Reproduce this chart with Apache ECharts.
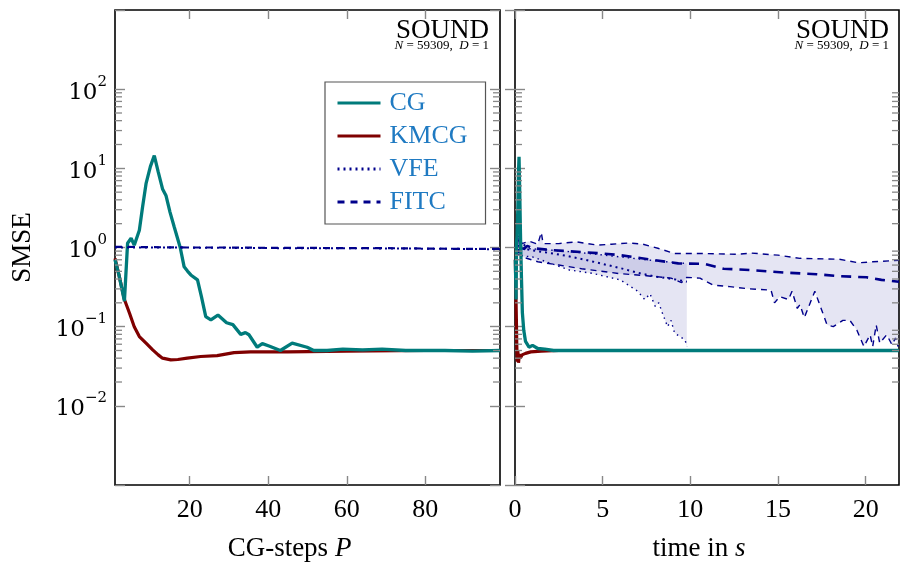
<!DOCTYPE html>
<html><head><meta charset="utf-8">
<script src="https://cdn.jsdelivr.net/npm/echarts@6/dist/echarts.min.js"></script>
<style>html,body{margin:0;padding:0;background:#fff}#c{width:906px;height:575px}</style>
</head><body><div id="c"></div>
<script>
// ---------- data (left: SMSE vs CG-steps P) ----------
const cgSteps = [[1,0.7],[2,0.45],[3.4,0.21],[4.2,1.13],[5.1,1.31],[5.9,1.07],[7.2,1.65],[8,3.2],[8.9,6.4],[10,10.5],[11,14.5],[12,9],[13.1,5.5],[14,4.5],[15,2.8],[16.1,1.8],[17.6,1.0],[18.6,0.57],[19.5,0.5],[20.3,0.45],[22,0.39],[23,0.24],[24.1,0.134],[25.4,0.122],[27.2,0.14],[29.4,0.112],[31,0.106],[33,0.08],[34.2,0.084],[35.1,0.079],[37.2,0.055],[38.5,0.061],[40.2,0.057],[43.1,0.05],[46.1,0.062],[49.9,0.055],[51.6,0.05],[55,0.05],[59,0.052],[64,0.051],[69,0.052],[75,0.05],[85,0.05],[92,0.049],[99,0.05]];
const kmcgSteps = [[1,0.73],[2,0.45],[3.4,0.22],[4.7,0.148],[5.9,0.1],[7.2,0.075],[8.9,0.062],[10.6,0.051],[12,0.044],[13.1,0.04],[15.2,0.038],[17,0.0385],[19.4,0.04],[22.8,0.042],[27,0.043],[31.3,0.047],[35.5,0.048],[45,0.048],[60,0.049],[80,0.05],[99,0.05]];
const vfeSteps = [[1,1.0],[15,1.0],[30,0.99],[45,0.98],[60,0.98],[75,0.97],[90,0.96],[99,0.95]];
const fitcSteps = [[1,1.02],[10,1.01],[20,1.0],[30,1.0],[40,0.99],[50,0.99],[60,0.98],[70,0.98],[80,0.97],[90,0.96],[99,0.96]];

// ---------- data (right: SMSE vs time in s) ----------
const cgTime = [[0.02,0.7],[0.06,0.22],[0.09,1.2],[0.12,1.4],[0.16,3],[0.2,9],[0.23,14],[0.27,5],[0.32,1.2],[0.37,0.4],[0.42,0.15],[0.5,0.09],[0.6,0.065],[0.8,0.055],[1.0,0.058],[1.3,0.053],[1.7,0.052],[2.2,0.05],[21.9,0.05]];
const kmcgTime = [[0.02,0.7],[0.05,0.27],[0.08,0.12],[0.1,0.06],[0.13,0.036],[0.16,0.05],[0.2,0.035],[0.25,0.045],[0.3,0.04],[0.4,0.044],[0.6,0.046],[0.9,0.048],[1.5,0.049],[2.5,0.05],[21.9,0.05]];
const fitcMeanTime = [[0.05,1.0],[0.15,1.25],[0.25,0.85],[0.35,1.1],[0.5,0.95],[0.7,1.05],[1.0,0.98],[2,0.93],[3,0.9],[4,0.87],[5,0.84],[6,0.8],[7.6,0.71],[9.3,0.63],[10.8,0.62],[11.9,0.54],[13.4,0.52],[15.5,0.48],[17.2,0.46],[18.5,0.435],[20.05,0.42],[20.9,0.39],[21.9,0.37]];
const fitcUpperTime = [[0.05,1.25],[0.2,1.4],[0.4,1.12],[0.8,1.2],[1.3,1.1],[1.5,1.55],[1.6,1.12],[2.5,1.12],[3.5,1.18],[4.7,1.07],[5.5,1.1],[6.5,1.14],[7.3,1.1],[8.2,0.97],[9.1,0.84],[10.55,0.84],[12.7,0.82],[13.5,0.85],[15,0.8],[16.25,0.73],[18.5,0.71],[19.6,0.64],[20.4,0.66],[21.9,0.69]];
const fitcLowerTime = [[0.05,0.85],[0.5,0.75],[1.3,0.66],[2.5,0.6],[3.8,0.54],[5.9,0.47],[7.5,0.44],[8.9,0.41],[9.5,0.36],[9.8,0.42],[10.55,0.41],[11.3,0.335],[12.25,0.32],[13.4,0.3],[14.6,0.29],[14.8,0.2],[15.1,0.24],[15.6,0.22],[15.8,0.28],[16.1,0.17],[16.25,0.19],[16.5,0.13],[17.1,0.28],[17.8,0.105],[18.15,0.1],[18.7,0.12],[19.1,0.12],[19.5,0.09],[19.9,0.056],[20.25,0.079],[20.4,0.056],[20.6,0.105],[20.8,0.062],[21.2,0.079],[21.5,0.059],[21.7,0.072],[21.85,0.056]];
const vfeMeanTime = [[0.05,1.1],[0.1,0.85],[0.15,1.3],[0.2,0.9],[0.3,1.2],[0.4,0.95],[0.5,1.1],[0.7,0.95],[1,0.92],[2,0.85],[3,0.78],[4,0.7],[5,0.62],[6,0.55],[7,0.48],[8,0.43],[9,0.4],[9.8,0.37]];
const vfeUpperTime = [[0.05,1.2],[0.2,1.35],[0.4,1.05],[0.7,0.97],[2,0.93],[4,0.85],[6,0.76],[8,0.68],[9.3,0.64],[9.8,0.63]];
const vfeLowerTime = [[0.05,0.8],[1,0.76],[3.1,0.52],[4.45,0.47],[6,0.39],[6.6,0.32],[7,0.28],[7.4,0.22],[7.7,0.26],[8,0.18],[8.2,0.2],[8.4,0.15],[8.7,0.1],[8.9,0.12],[9.1,0.083],[9.4,0.075],[9.7,0.068],[9.8,0.056]];

// ---------- axes / ticks ----------
const stepTicks = [20, 40, 60, 80];
const timeTicks = [0, 5, 10, 15, 20];
const minorTickValues = [0.02,0.03,0.04,0.05,0.06,0.07,0.08,0.09,0.2,0.3,0.4,0.5,0.6,0.7,0.8,0.9,2,3,4,5,6,7,8,9,20,30,40,50,60,70,80,90];
const labelledExponents = [-2, -1, 0, 1, 2];

const TEAL = '#007b7b', DRED = '#7f0000', NAVY = '#00008b';
const SERIF = 'Liberation Serif';
const TICK = '#888';

function logFmt(v) {
  const e = Math.round(Math.log10(v));
  if (labelledExponents.indexOf(e) < 0) return '';
  return '{b|10}{s|' + String(e).replace('-', '\u2212') + '}';
}
const yRich = { b: { fontFamily: 'DejaVu Serif', fontSize: 23, lineHeight: 30, color: '#000', verticalAlign: 'bottom' },
                s: { fontFamily: 'DejaVu Serif', fontSize: 15, lineHeight: 16, color: '#000', verticalAlign: 'top' } };

function xAx(grid, pos, min, max, ticks, showLabel, name) {
  return { type: 'value', gridIndex: grid, position: pos, min: min, max: max,
    axisLine: { show: false }, splitLine: { show: false },
    axisTick: { show: true, inside: true, length: 9, customValues: ticks, lineStyle: { color: TICK, width: 1.4 } },
    axisLabel: { show: showLabel, customValues: ticks, margin: 12, fontFamily: SERIF, fontSize: 26, color: '#000' },
    name: name ? name.text : '', nameLocation: 'middle', nameGap: name ? name.gap : 0,
    nameTextStyle: name ? { padding: name.pad, rich: { n: { fontFamily: SERIF, fontSize: 27, color: '#000' }, i: { fontFamily: SERIF, fontStyle: 'italic', fontSize: 27, color: '#000' } } } : {}
  };
}
function yAx(grid, pos, showLabel, name) {
  return { type: 'log', logBase: 10, gridIndex: grid, position: pos, min: 0.001, max: 1000, splitNumber: 6,
    axisLine: { show: false }, splitLine: { show: false }, minorTick: { show: false },
    axisTick: { show: true, inside: true, length: 10, lineStyle: { color: TICK, width: 1.4 } },
    axisLabel: { show: showLabel, margin: 8, formatter: logFmt, rich: yRich },
    name: name || '', nameLocation: 'middle', nameGap: 79, nameRotate: 90,
    nameTextStyle: { fontFamily: SERIF, fontSize: 27, color: '#000' }
  };
}

function band(xi, yi, upper, lower) {
  return { type: 'custom', name: 'band', xAxisIndex: xi, yAxisIndex: yi, silent: true, clip: true, z: 1,
    data: [upper[0]],
    renderItem: function (params, api) {
      const pts = upper.map(p => api.coord(p)).concat(lower.slice().reverse().map(p => api.coord(p)));
      return { type: 'polygon', shape: { points: pts }, style: { fill: 'rgba(0,0,139,0.10)' } };
    } };
}
function minorTicks(xi, yi, xMin) {
  return { type: 'custom', name: 'minor', xAxisIndex: xi, yAxisIndex: yi, silent: true, z: 6,
    data: minorTickValues.map(v => [xMin, v]),
    renderItem: function (params, api) {
      const cs = params.coordSys;
      const y = api.coord([api.value(0), api.value(1)])[1];
      const st = { stroke: TICK, lineWidth: 1.3 };
      return { type: 'group', children: [
        { type: 'line', shape: { x1: cs.x, y1: y, x2: cs.x + 7, y2: y }, style: st },
        { type: 'line', shape: { x1: cs.x + cs.width - 7, y1: y, x2: cs.x + cs.width, y2: y }, style: st } ] };
    } };
}
function line(name, xi, yi, data, color, width, type, z) {
  return { type: 'line', name: name, xAxisIndex: xi, yAxisIndex: yi, data: data, symbol: 'none',
    lineStyle: { color: color, width: width, type: type || 'solid' }, itemStyle: { color: color },
    z: z || 3, animation: false };
}

const chart = echarts.init(document.getElementById('c'), null, { renderer: 'canvas' });
chart.setOption({
  animation: false,
  backgroundColor: '#fff',
  grid: [
    { left: 115, top: 10, width: 385, height: 475, show: true, borderColor: '#000', borderWidth: 1.6, backgroundColor: 'transparent' },
    { left: 515, top: 10, width: 384, height: 475, show: true, borderColor: '#000', borderWidth: 1.6, backgroundColor: 'transparent' }
  ],
  xAxis: [
    xAx(0, 'bottom', 1, 99, stepTicks, true, { text: '{n|CG-steps }{i|P}', gap: 50, pad: [0, 36, 0, 0] }),
    xAx(0, 'top', 1, 99, stepTicks, false),
    xAx(1, 'bottom', 0, 21.9, timeTicks, true, { text: '{n|time in }{i|s}', gap: 50, pad: [0, 16, 0, 0] }),
    xAx(1, 'top', 0, 21.9, timeTicks, false)
  ],
  yAxis: [
    yAx(0, 'left', true, 'SMSE'),
    yAx(0, 'right', false),
    yAx(1, 'left', false),
    yAx(1, 'right', false)
  ],
  legend: {
    data: ['CG', 'KMCG', 'VFE', 'FITC'], orient: 'vertical', left: 325, top: 82,
    padding: [8, 18, 9, 11], itemGap: 7, itemWidth: 43, itemHeight: 14, selectedMode: false,
    borderColor: '#555', borderWidth: 1.2, backgroundColor: '#fff', borderRadius: 0,
    itemStyle: { opacity: 0 },
    lineStyle: { width: 3 },
    textStyle: { fontFamily: SERIF, fontSize: 26, lineHeight: 26, color: '#1f7ac2', padding: [0, 0, 0, 4] }
  },
  graphic: [
    { type: 'text', x: 489, y: 31, z: 10, style: { text: 'SOUND', font: '27px "Liberation Serif"', fill: '#000', align: 'right', verticalAlign: 'middle' } },
    { type: 'text', x: 489, y: 46, z: 10, style: { text: '{i|N} = 59309,  {i|D} = 1', font: '13px "Liberation Serif"', fill: '#000', align: 'right', verticalAlign: 'middle', rich: { i: { fontStyle: 'italic', fontSize: 13, fontFamily: SERIF } } } },
    { type: 'text', x: 889, y: 31, z: 10, style: { text: 'SOUND', font: '27px "Liberation Serif"', fill: '#000', align: 'right', verticalAlign: 'middle' } },
    { type: 'text', x: 889, y: 46, z: 10, style: { text: '{i|N} = 59309,  {i|D} = 1', font: '13px "Liberation Serif"', fill: '#000', align: 'right', verticalAlign: 'middle', rich: { i: { fontStyle: 'italic', fontSize: 13, fontFamily: SERIF } } } }
  ],
  series: [
    // left panel
    line('CG', 0, 0, cgSteps, TEAL, 3.3, 'solid', 5),
    line('KMCG', 0, 0, kmcgSteps, DRED, 3.2, 'solid', 4),
    line('VFE', 0, 0, vfeSteps, NAVY, 2, [2, 4], 6),
    line('FITC', 0, 0, fitcSteps, NAVY, 2.2, [7, 6], 6),
    minorTicks(0, 0, 1),
    // right panel
    band(2, 2, fitcUpperTime, fitcLowerTime),
    band(2, 2, vfeUpperTime, vfeLowerTime),
    line('FITC-upper', 2, 2, fitcUpperTime, NAVY, 1.4, [6, 5], 3),
    line('FITC-lower', 2, 2, fitcLowerTime, NAVY, 1.4, [6, 5], 3),
    line('FITC', 2, 2, fitcMeanTime, NAVY, 2.6, [10, 7], 3),
    line('VFE-upper', 2, 2, vfeUpperTime, NAVY, 1.4, [1.5, 4], 3),
    line('VFE-lower', 2, 2, vfeLowerTime, NAVY, 1.4, [1.5, 4], 3),
    line('VFE', 2, 2, vfeMeanTime, NAVY, 2, [2, 4], 3),
    line('KMCG', 2, 2, kmcgTime, DRED, 3.2, 'solid', 4),
    line('CG', 2, 2, cgTime, TEAL, 3.3, 'solid', 5),
    minorTicks(2, 2, 0)
  ]
});
</script>
</body></html>
